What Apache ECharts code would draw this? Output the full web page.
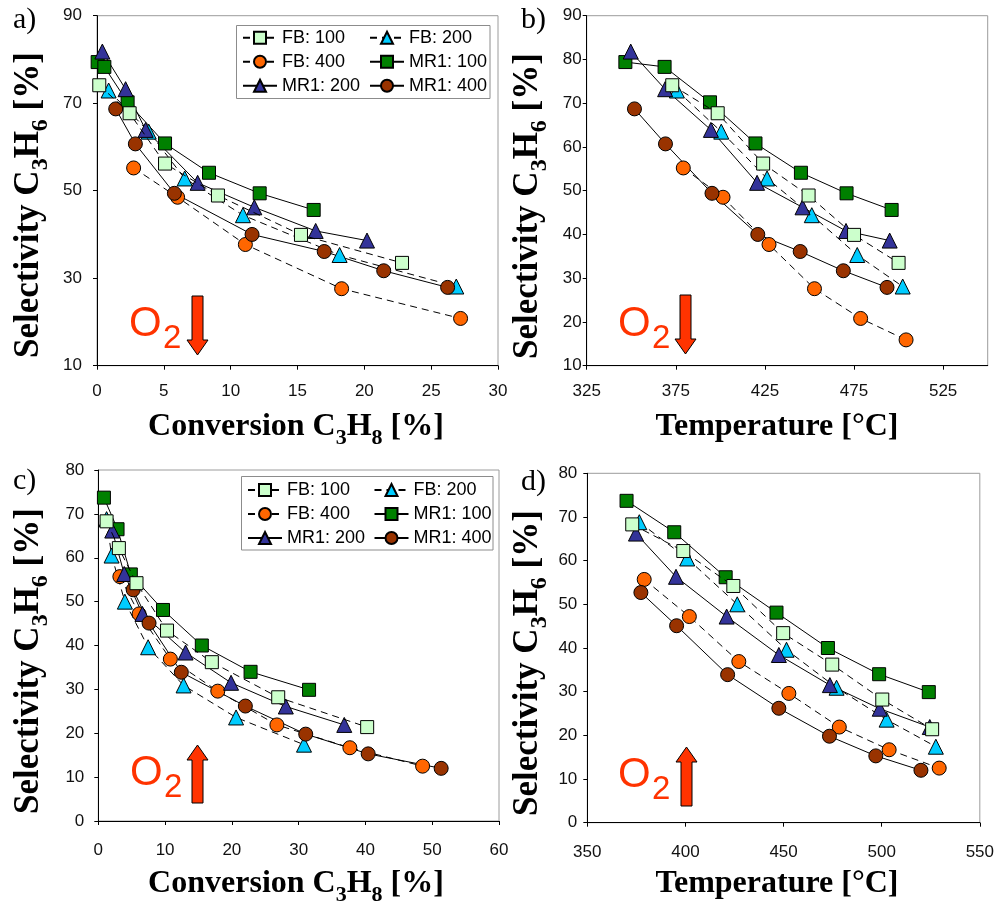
<!DOCTYPE html>
<html>
<head>
<meta charset="utf-8">
<script src="https://cdn.jsdelivr.net/npm/echarts@6/dist/echarts.min.js"></script>
<style>
  html, body { margin: 0; padding: 0; background: #fff; }
  #chart { width: 997px; height: 903px; }
</style>
</head>
<body>
<div id="chart"></div>
<script>
// ---- series names (legend order) ----
const SERIES_NAMES = ['FB: 100', 'FB: 200', 'FB: 400', 'MR1: 100', 'MR1: 200', 'MR1: 400'];

// ---- upper row: decreasing O2 feed (selectivity %, conversion %, temperature °C) ----
const selDown_FB100  = [74.1, 67.7, 56.2, 48.9, 39.9, 33.5];
const convDown_FB100 = [0.17, 2.44, 5.09, 9.05, 15.26, 22.82];
const tempDown_FB100 = [373, 398.5, 424, 449.5, 475, 500];

const selDown_FB200  = [72.9, 63.5, 52.8, 44.4, 35.3, 28.1];
const convDown_FB200 = [0.87, 3.87, 6.56, 10.92, 18.15, 26.88];
const tempDown_FB200 = [375.6, 400.5, 426.2, 451.3, 476.8, 502.3];

const selDown_FB400  = [55.2, 48.5, 37.7, 27.6, 20.8, 15.9];
const convDown_FB400 = [2.74, 6.03, 11.1, 18.3, 27.2];
const tempDown_FB400 = [379.2, 401.5, 427.3, 452.8, 478.7, 504.2];

const selDown_MR100  = [79.4, 78.3, 70.2, 60.8, 54.1, 49.4, 45.6];
const convDown_MR100 = [0.05, 0.55, 2.29, 5.09, 8.38, 12.17, 16.21];
const tempDown_MR100 = [346.7, 368.7, 394.2, 419.7, 445.2, 470.8, 496.1];

const selDown_MR200  = [81.8, 73.2, 63.9, 51.8, 46.2, 40.8, 38.6];
const convDown_MR200 = [0.4, 2.14, 3.64, 7.53, 11.77, 16.36, 20.2];
const tempDown_MR200 = [349.7, 369, 394.7, 420.6, 446.1, 470.5, 495];

const selDown_MR400  = [68.7, 60.7, 49.4, 40.0, 36.1, 31.7, 27.9];
const convDown_MR400 = [1.4, 2.87, 5.79, 11.6, 17.0, 21.45, 26.23];
const tempDown_MR400 = [351.8, 369.2, 395.3, 421, 444.8, 469, 493.5];

// ---- lower row: increasing O2 feed ----
const selUp_FB100  = [68.3, 62.2, 54.2, 43.4, 36.2, 28.2, 21.4];
const convUp_FB100 = [1.24, 3.08, 5.72, 10.29, 17.0, 26.94, 40.26];
const tempUp_FB100 = [372.9, 398.9, 424.4, 449.8, 474.8, 500.3, 525.7];

const selUp_FB200  = [68.8, 60.5, 50.0, 39.6, 30.9, 23.6, 17.4];
const convUp_FB200 = [1.24, 1.99, 3.98, 7.46, 12.77, 20.63, 30.8];
const tempUp_FB200 = [376.5, 400.9, 426.4, 451.5, 477, 502.5, 527.6];

const selUp_FB400  = [55.7, 47.2, 36.9, 29.6, 21.9, 16.7, 12.5];
const convUp_FB400 = [3.23, 6.11, 10.79, 17.89, 26.74, 37.67, 48.56];
const tempUp_FB400 = [379, 402, 427.2, 452.7, 478.4, 503.8, 529.3];

const selUp_MR100  = [73.7, 66.5, 56.2, 48.1, 40.0, 34.0, 29.9];
const convUp_MR100 = [0.84, 2.88, 4.87, 9.69, 15.5, 22.8, 31.56];
const tempUp_MR100 = [370, 394.3, 420.5, 446.4, 472.6, 498.7, 524];

const selUp_MR200  = [66.2, 56.3, 47.2, 38.4, 31.5, 26.1, 21.9];
const convUp_MR200 = [2.09, 3.88, 6.61, 13.07, 19.88, 28.08, 36.83];
const tempUp_MR200 = [374.8, 395.2, 421, 447.6, 473.6, 499, 524.5];

const selUp_MR400  = [52.7, 45.1, 33.9, 26.2, 19.8, 15.3, 12.0];
const convUp_MR400 = [5.22, 7.6, 12.43, 22.02, 31.06, 40.41, 51.34];
const tempUp_MR400 = [377.3, 395.5, 421.5, 447.6, 473.4, 497, 520];

// ---- axis ranges / ticks ----
const xConvDown = { min: 0, max: 30, interval: 5 };
const xTempDown = { min: 325, max: 550, interval: 50 };
const xConvUp   = { min: 0, max: 60, interval: 10 };
const xTempUp   = { min: 350, max: 550, interval: 50 };
const ySelA = { min: 10, max: 90, interval: 20 };
const ySelB = { min: 10, max: 90, interval: 10 };
const ySelC = { min: 0, max: 80, interval: 10 };
const ySelD = { min: 0, max: 80, interval: 10 };

// ---- marker look per series ----
const LOOK = {
  'FB: 100':  { symbol: 'rect',     size: 13, fill: '#CCFFCC', dashed: true },
  'FB: 200':  { symbol: 'triangle', size: 15, fill: '#00CCFF', dashed: true },
  'FB: 400':  { symbol: 'circle',   size: 14, fill: '#FF6600', dashed: true },
  'MR1: 100': { symbol: 'rect',     size: 13, fill: '#008000', dashed: false },
  'MR1: 200': { symbol: 'triangle', size: 15, fill: '#333399', dashed: false },
  'MR1: 400': { symbol: 'circle',   size: 14, fill: '#993300', dashed: false }
};

// panel -> per series [x values, y values]
const PANELS = [
  [[convDown_FB100, selDown_FB100], [convDown_FB200, selDown_FB200], [convDown_FB400, selDown_FB400],
   [convDown_MR100, selDown_MR100], [convDown_MR200, selDown_MR200], [convDown_MR400, selDown_MR400]],
  [[tempDown_FB100, selDown_FB100], [tempDown_FB200, selDown_FB200], [tempDown_FB400, selDown_FB400],
   [tempDown_MR100, selDown_MR100], [tempDown_MR200, selDown_MR200], [tempDown_MR400, selDown_MR400]],
  [[convUp_FB100, selUp_FB100], [convUp_FB200, selUp_FB200], [convUp_FB400, selUp_FB400],
   [convUp_MR100, selUp_MR100], [convUp_MR200, selUp_MR200], [convUp_MR400, selUp_MR400]],
  [[tempUp_FB100, selUp_FB100], [tempUp_FB200, selUp_FB200], [tempUp_FB400, selUp_FB400],
   [tempUp_MR100, selUp_MR100], [tempUp_MR200, selUp_MR200], [tempUp_MR400, selUp_MR400]]
];

const SANS = '"Liberation Sans", Arial, sans-serif';
const SERIF = '"Liberation Serif", "Times New Roman", serif';

const grids = [
  { left: 97,    top: 15.7,  width: 401,   height: 350 },
  { left: 586.7, top: 15.7,  width: 401,   height: 350 },
  { left: 98.3,  top: 470,   width: 400.7, height: 351 },
  { left: 587.3, top: 473.3, width: 392.7, height: 349.4 }
].map(g => Object.assign({ show: true, borderColor: '#9c9c9c', borderWidth: 1, backgroundColor: 'transparent' }, g));

function axisCommon(labelMargin) {
  return {
    type: 'value',
    axisLine: { show: true, lineStyle: { color: '#000', width: 1 } },
    axisTick: { show: true, inside: false, length: 4, lineStyle: { color: '#000', width: 1 } },
    axisLabel: { color: '#111', fontFamily: SANS, fontSize: 17, margin: labelMargin },
    splitLine: { show: false }
  };
}

const xRanges = [xConvDown, xTempDown, xConvUp, xTempUp];
const yRanges = [ySelA, ySelB, ySelC, ySelD];
const xMargins = [17, 17, 21, 21];
const yMargins = [15, 5, 14, 10];

const xAxes = xRanges.map((r, i) => {
  const a = axisCommon(xMargins[i]);
  Object.assign(a, { gridIndex: i }, r);
  if (i === 1) a.axisLabel.showMaxLabel = false;
  return a;
});
const yAxes = yRanges.map((r, i) => Object.assign(axisCommon(yMargins[i]), { gridIndex: i }, r));

const series = [];
PANELS.forEach((panel, p) => {
  panel.forEach(([xs, ys], k) => {
    const name = SERIES_NAMES[k];
    const look = LOOK[name];
    series.push({
      name: name,
      type: 'line',
      xAxisIndex: p,
      yAxisIndex: p,
      data: xs.map((x, i) => [x, ys[i]]),
      symbol: look.symbol,
      symbolSize: look.size,
      showSymbol: true,
      color: look.fill,
      itemStyle: { color: look.fill, borderColor: '#000', borderWidth: 1 },
      lineStyle: { color: '#000', width: 1, type: look.dashed ? [7, 5] : 'solid' },
      z: name === 'FB: 100' ? 3 : 2,
      animation: false,
      silent: true
    });
  });
});

function legendCol(left, top, names) {
  return {
    left: left, top: top, orient: 'vertical', padding: 0,
    itemWidth: 34, itemHeight: 15, itemGap: 6,
    textStyle: { fontFamily: SANS, fontSize: 18, color: '#000', lineHeight: 18 },
    selectedMode: false,
    data: names
  };
}
const legendLeftNames = ['FB: 100', 'FB: 400', 'MR1: 200'];
const legendRightNames = ['FB: 200', 'MR1: 100', 'MR1: 400'];
const legends = [
  legendCol(242, 28.7, legendLeftNames), legendCol(369, 28.7, legendRightNames),
  legendCol(247, 481, legendLeftNames), legendCol(373.5, 481, legendRightNames)
];

// ---- text / annotation graphics ----
const xTitleRich = {
  t: { fontFamily: SERIF, fontWeight: 'bold', fontSize: 32, lineHeight: 44, color: '#000' },
  s: { fontFamily: SERIF, fontWeight: 'bold', fontSize: 22, lineHeight: 24, verticalAlign: 'bottom', color: '#000' }
};
const yTitleRich = {
  t: { fontFamily: SERIF, fontWeight: 'bold', fontSize: 35, lineHeight: 48, color: '#000' },
  s: { fontFamily: SERIF, fontWeight: 'bold', fontSize: 24, lineHeight: 26, verticalAlign: 'bottom', color: '#000' }
};
const convTitle = '{t|Conversion C}{s|3}{t|H}{s|8}{t| [%]}';
const tempTitle = '{t|Temperature [°C]}';
const selTitle  = '{t|Selectivity C}{s|3}{t|H}{s|6}{t| [%]}';

function richText(x, y, text, rich, rot) {
  return {
    type: 'text', x: x, y: y, rotation: rot || 0, z: 10,
    style: { text: text, rich: rich, align: 'center', verticalAlign: 'middle' }
  };
}
function plainText(x, y, text, font, size, color, weight) {
  return {
    type: 'text', x: x, y: y, z: 10,
    style: { text: text, fontFamily: font, fontSize: size, fill: color, fontWeight: weight || 'normal',
             align: 'left', verticalAlign: 'middle' }
  };
}
const O2_RED = '#FF3300';
function o2Label(x, y) {
  return [
    plainText(x, y, 'O', SANS, 42, O2_RED),
    plainText(x + 34, y + 15, '2', SANS, 33, O2_RED)
  ];
}
function arrow(cx, yStart, yEnd) {
  // shaft from yStart, head tip at yEnd
  const dir = yEnd > yStart ? 1 : -1;
  const headBase = yEnd - dir * 15;
  return {
    type: 'polygon', z: 10,
    shape: { points: [
      [cx - 5.5, yStart], [cx + 5.5, yStart], [cx + 5.5, headBase], [cx + 10.5, headBase],
      [cx, yEnd], [cx - 10.5, headBase], [cx - 5.5, headBase]
    ] },
    style: { fill: O2_RED, stroke: '#000', lineWidth: 1 }
  };
}
function legendBox(x, y, w, h) {
  return { type: 'rect', z: 1, shape: { x: x, y: y, width: w, height: h },
           style: { fill: '#fff', stroke: '#8c8c8c', lineWidth: 1 } };
}

const graphics = [
  legendBox(236.5, 25.5, 253.5, 73),
  legendBox(241.5, 476.5, 251.5, 73.5),
  richText(296, 427, convTitle, xTitleRich), richText(777, 427, tempTitle, xTitleRich),
  richText(296, 884, convTitle, xTitleRich), richText(777, 884, tempTitle, xTitleRich),
  richText(28.5, 205, selTitle, yTitleRich, Math.PI / 2), richText(527.5, 206, selTitle, yTitleRich, Math.PI / 2),
  richText(28.5, 661, selTitle, yTitleRich, Math.PI / 2), richText(527.5, 663, selTitle, yTitleRich, Math.PI / 2),
  plainText(13, 20, 'a)', SERIF, 30, '#000'), plainText(521, 20, 'b)', SERIF, 30, '#000'),
  plainText(13, 481, 'c)', SERIF, 30, '#000'), plainText(521, 482, 'd)', SERIF, 30, '#000'),
  ...o2Label(129, 324), ...o2Label(618, 324), ...o2Label(130, 773), ...o2Label(618, 775),
  arrow(197.5, 296, 355), arrow(685.5, 295, 354), arrow(197.5, 803, 745), arrow(686.5, 806, 747)
];

const chart = echarts.init(document.getElementById('chart'), null, { renderer: 'canvas' });
chart.setOption({
  animation: false,
  backgroundColor: '#fff',
  grid: grids,
  xAxis: xAxes,
  yAxis: yAxes,
  legend: legends,
  series: series,
  graphic: graphics
});
</script>
</body>
</html>
